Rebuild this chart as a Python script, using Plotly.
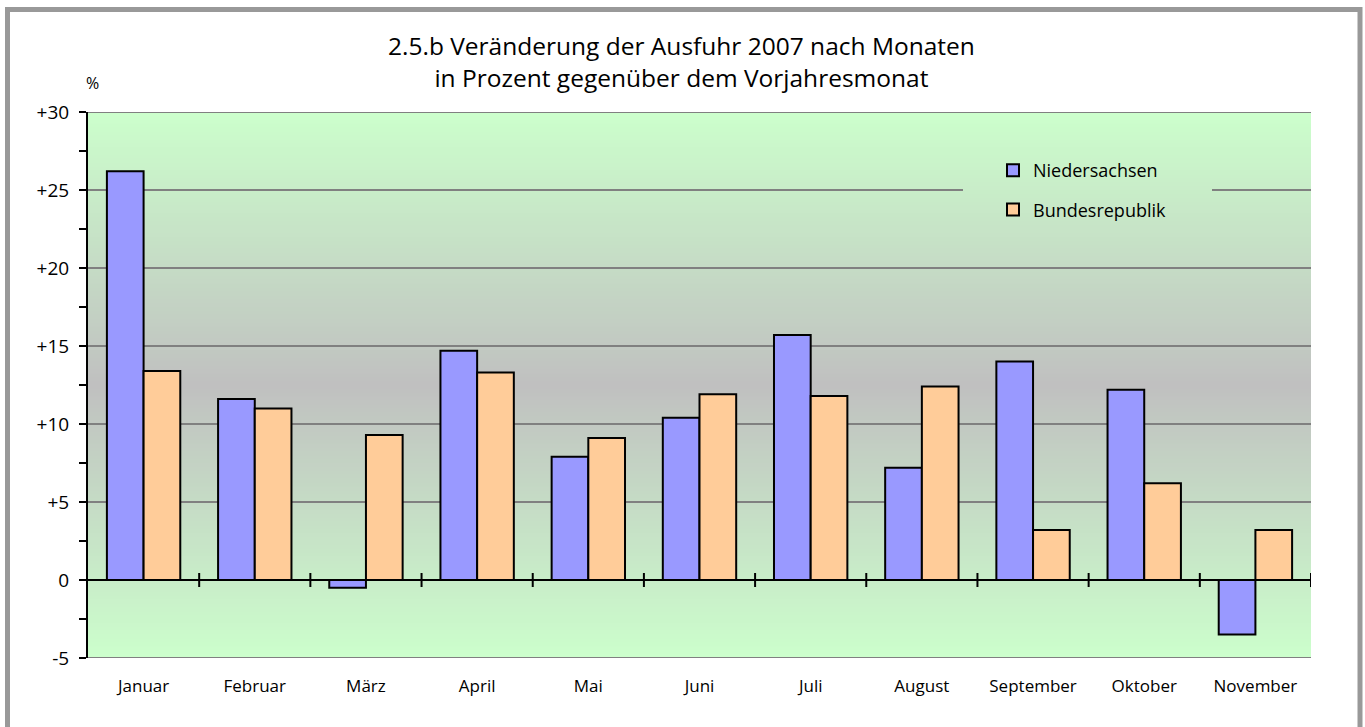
import plotly.graph_objects as go

months = ["Januar", "Februar", "März", "April", "Mai", "Juni", "Juli",
          "August", "September", "Oktober", "November"]
niedersachsen = [26.2, 11.6, -0.5, 14.7, 7.9, 10.4, 15.7, 7.2, 14.0, 12.2, -3.5]
bundesrepublik = [13.4, 11.0, 9.3, 13.3, 9.1, 11.9, 11.8, 12.4, 3.2, 6.2, 3.2]
ytick_vals = [-5, 0, 5, 10, 15, 20, 25, 30]
ytick_text = ["-5", "0", "+5", "+10", "+15", "+20", "+25", "+30"]

W, H = 1365, 727
L, R, T, B = 88, 54, 112, 69
PW, PH = W - L - R, H - T - B

def px_x(p):
    return (p - L) / PW

def px_y(p):
    return (H - B - p) / PH

FONT = "Open Sans"

fig = go.Figure()
fig.add_trace(go.Bar(name="Niedersachsen", x=months, y=niedersachsen,
                     marker=dict(color="#9999FF", line=dict(color="black", width=2)),
                     legendgroup="a"))
fig.add_trace(go.Bar(name="Bundesrepublik", x=months, y=bundesrepublik,
                     marker=dict(color="#FFCC99", line=dict(color="black", width=2)),
                     legendgroup="b"))

shapes = []
# gradient background
ymin, ymax = -5.0, 30.0
mid = (ymin + ymax) / 2
green = (204, 255, 204)
gray = (192, 192, 192)
n = 140
step = (ymax - ymin) / n
for i in range(n):
    y0 = ymin + i * step
    y1 = y0 + step
    ym = (y0 + y1) / 2
    f = abs(ym - mid) / (ymax - mid)
    c = tuple(round(g + f * (gr - g)) for g, gr in zip(gray, green))
    shapes.append(dict(type="rect", xref="paper", yref="y", x0=0, x1=1,
                       y0=y0, y1=min(y1 + step * 0.3, ymax), layer="below",
                       line=dict(width=0), fillcolor="rgb(%d,%d,%d)" % c))
# gridlines
for v in ytick_vals:
    if v == 0:
        continue
    if v == 25:
        segs = [(0, px_x(963)), (px_x(1212), 1)]
    else:
        segs = [(0, 1)]
    for a, b in segs:
        shapes.append(dict(type="line", xref="paper", yref="y", x0=a, x1=b,
                           y0=v, y1=v, layer="below",
                           line=dict(color="#808080", width=2)))
# zero axis line
shapes.append(dict(type="line", xref="paper", yref="y", x0=0, x1=1, y0=0, y1=0,
                   layer="above", line=dict(color="black", width=2)))
# crossing category ticks
tick_half = 7 / (PH / (ymax - ymin))
for i in range(len(months)):
    shapes.append(dict(type="line", xref="x", yref="y", x0=i + 0.5, x1=i + 0.5,
                       y0=-tick_half, y1=tick_half, layer="above",
                       line=dict(color="black", width=2)))
# outer frame
shapes.append(dict(type="rect", xref="paper", yref="paper",
                   x0=px_x(7.5), x1=px_x(1360), y0=px_y(780), y1=px_y(9.5),
                   line=dict(color="#999999", width=5), fillcolor="rgba(0,0,0,0)",
                   layer="above"))

fig.update_layout(
    width=W, height=H,
    margin=dict(l=L, r=R, t=T, b=B, pad=0),
    paper_bgcolor="white", plot_bgcolor="rgba(0,0,0,0)",
    barmode="group", bargap=0.34, bargroupgap=0,
    font=dict(family=FONT, color="black"),
    showlegend=True,
    legend=dict(x=px_x(993), y=px_y(152), xanchor="left", yanchor="top",
                bgcolor="rgba(0,0,0,0)", font=dict(size=18, family=FONT),
                tracegroupgap=13, traceorder="grouped"),
    shapes=shapes,
    annotations=[
        dict(text="2.5.b Veränderung der Ausfuhr 2007 nach Monaten<br>in Prozent gegenüber dem Vorjahresmonat",
             xref="paper", yref="paper", x=px_x(681), y=px_y(61),
             xanchor="center", yanchor="middle", showarrow=False,
             font=dict(size=24.5, family=FONT)),
        dict(text="%", xref="paper", yref="paper", x=px_x(92), y=px_y(83),
             xanchor="center", yanchor="middle", showarrow=False,
             font=dict(size=16, family=FONT)),
    ],
)
fig.update_xaxes(type="category", range=[-0.5, len(months) - 0.5],
                 showline=False, showgrid=False, zeroline=False,
                 ticks="outside", ticklen=13, tickcolor="rgba(0,0,0,0)",
                 tickfont=dict(size=17, family=FONT))
fig.update_yaxes(range=[ymin, ymax], showgrid=False, zeroline=False,
                 showline=True, linecolor="black", linewidth=2,
                 ticks="outside", ticklen=7, tickwidth=2, tickcolor="black",
                 ticklabelstandoff=6,
                 tickvals=ytick_vals, ticktext=ytick_text,
                 tickfont=dict(size=19, family=FONT),
                 minor=dict(dtick=2.5, ticks="outside", ticklen=7, tickwidth=2,
                            tickcolor="black", showgrid=False))
fig.write_html("out.html", post_script="document.body.style.margin='0';",
               config={"displayModeBar": False})
